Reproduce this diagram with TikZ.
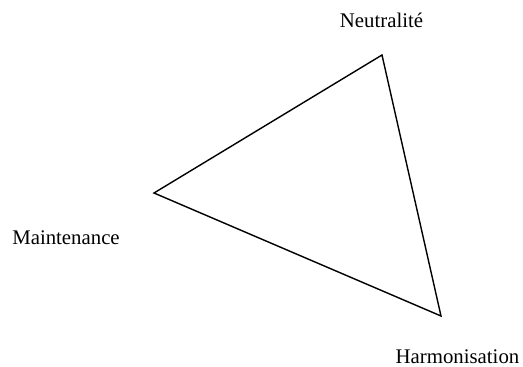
\documentclass[tikz,border=0pt]{standalone}
\usepackage{fontspec}
\setmainfont{Liberation Serif}
\begin{document}
\begin{tikzpicture}[x=1pt,y=1pt,
  lbl/.style={inner sep=0pt,anchor=base,font=\fontsize{20.8}{24}\selectfont},
  edge/.style={line width=1.4pt,line join=miter}]
\useasboundingbox (0,0) rectangle (523,367);
\coordinate (top) at (382,312);
\coordinate (left) at (154,174);
\coordinate (bot) at (441,51);
\draw[edge] (top) -- (left) -- (bot) -- cycle;
\node[lbl] (n) at (381.5,339) {Neutralité};
\node[lbl] (m) at (66,122) {Maintenance};
\node[lbl] (h) at (457.5,3.5) {Harmonisation};
\end{tikzpicture}
\end{document}
